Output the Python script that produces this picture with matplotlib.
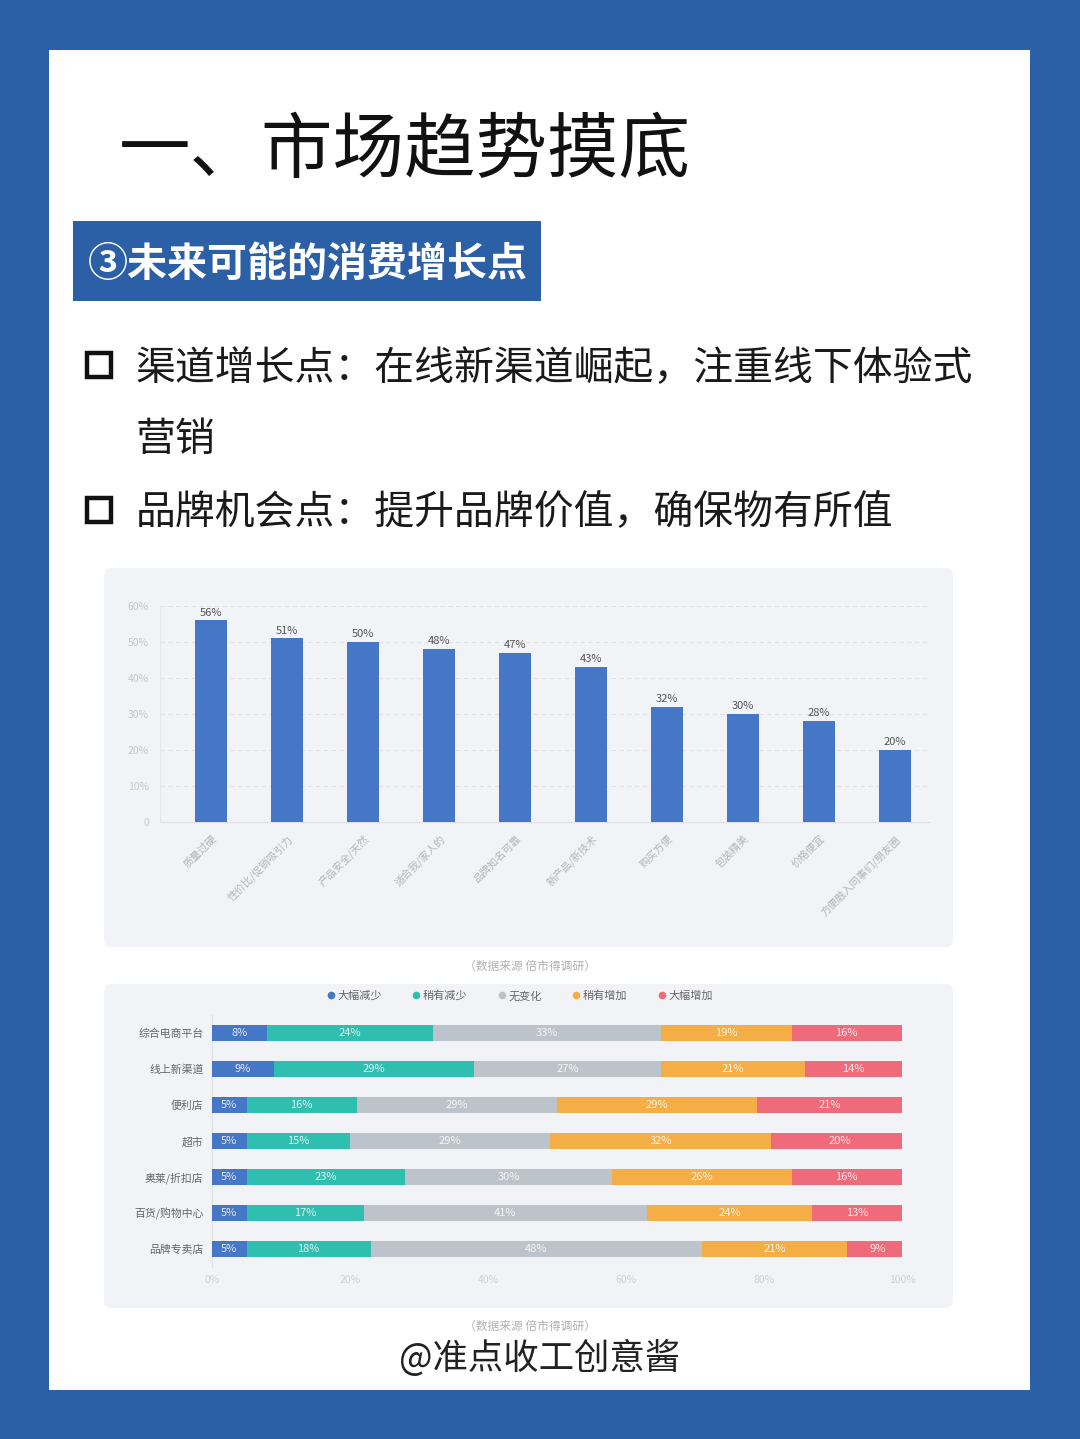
import numpy as np
import matplotlib.pyplot as plt
from matplotlib.patches import FancyBboxPatch, Rectangle
from matplotlib.lines import Line2D

plt.rcParams['font.family'] = ['Noto Sans CJK SC', 'DejaVu Sans']

# ---- data ----
bar_labels = ["质量过硬", "性价比/促销吸引力", "产品安全/天然", "适合我/家人的", "品牌知名可靠",
              "新产品/新技术", "购买方便", "包装精美", "价格便宜", "方便融入同事们/朋友圈"]
bar_values = [56, 51, 50, 48, 47, 43, 32, 30, 28, 20]
bar_yticks = [0, 10, 20, 30, 40, 50, 60]

channels = ["综合电商平台", "线上新渠道", "便利店", "超市", "奥莱/折扣店", "百货/购物中心", "品牌专卖店"]
change_levels = ["大幅减少", "稍有减少", "无变化", "稍有增加", "大幅增加"]
big_down = [8, 9, 5, 5, 5, 5, 5]
small_down = [24, 29, 16, 15, 23, 17, 18]
no_change = [33, 27, 29, 29, 30, 41, 48]
small_up = [19, 21, 29, 32, 26, 24, 21]
big_up = [16, 14, 21, 20, 16, 13, 9]
stack_xticks = [0, 20, 40, 60, 80, 100]

W, H = 1080, 1439
fig = plt.figure(figsize=(W / 100, H / 100), dpi=100)
fig.patch.set_facecolor("#2b5fa6")


def rect(x0, y0, x1, y1):
    # pixel box -> figure fraction
    return [x0 / W, 1 - y1 / H, (x1 - x0) / W, (y1 - y0) / H]


def fx(x):
    return x / W


def fy(y):
    return 1 - y / H


# white page
fig.patches.append(Rectangle((fx(49), fy(1390)), (1030 - 49) / W, (1390 - 50) / H,
                             transform=fig.transFigure, facecolor="white", edgecolor="none", zorder=-3))

# title
fig.text(fx(119), fy(151), "一、市场趋势摸底", fontsize=51.5, color="#111111",
         ha="left", va="center", fontweight="medium")

# blue tag
fig.patches.append(Rectangle((fx(73), fy(301)), (541 - 73) / W, (301 - 221) / H,
                             transform=fig.transFigure, facecolor="#2b5fa6", edgecolor="none", zorder=1))
fig.text(fx(88), fy(264), "③未来可能的消费增长点", fontsize=28.8, color="white",
         ha="left", va="center", fontweight="bold", zorder=2)

# bullets
for yb in [365, 510]:
    fig.patches.append(Rectangle((fx(87), fy(yb + 12)), 24 / W, 24 / H, transform=fig.transFigure,
                                 facecolor="none", edgecolor="#111111", linewidth=3.2, zorder=2))
fig.text(fx(136), fy(369), "渠道增长点：在线新渠道崛起，注重线下体验式", fontsize=28.7,
         color="#1a1a1a", ha="left", va="center")
fig.text(fx(136), fy(440), "营销", fontsize=28.7, color="#1a1a1a", ha="left", va="center")
fig.text(fx(136), fy(513), "品牌机会点：提升品牌价值，确保物有所值", fontsize=28.7,
         color="#1a1a1a", ha="left", va="center")

# chart panels
for (x0, y0, x1, y1) in [(104, 568, 953, 947), (104, 984, 953, 1308)]:
    fig.patches.append(FancyBboxPatch((fx(x0), fy(y1)), (x1 - x0) / W, (y1 - y0) / H,
                                      boxstyle="round,pad=0,rounding_size=0.006",
                                      transform=fig.transFigure, facecolor="#f2f3f7",
                                      edgecolor="none", zorder=-2))

# ---- bar chart ----
ax1 = fig.add_axes(rect(160, 606, 930, 822))
ax1.patch.set_alpha(0)
x = np.arange(len(bar_values))
bars = ax1.bar(x, bar_values, width=0.42, color="#4677c6", zorder=3)
for xi, v in zip(x, bar_values):
    ax1.text(xi, v + 0.8, f"{v}%", ha="center", va="bottom", fontsize=8, color="#555555")
ax1.set_xlim(-0.67, 9.46)
ax1.set_ylim(0, 60)
ax1.set_yticks(bar_yticks)
ax1.set_yticklabels(["0"] + [f"{t}%" for t in bar_yticks[1:]], fontsize=7.5, color="#c8c8c8")
ax1.set_xticks(x)
ax1.set_xticklabels(bar_labels, rotation=45, ha="right", va="top", rotation_mode="anchor",
                    fontsize=7.5, color="#b5b5b5")
ax1.tick_params(length=0, pad=8)
ax1.grid(axis="y", linestyle=(0, (4, 3)), color="#e2e2e6", linewidth=0.8, zorder=0)
for s in ["top", "right"]:
    ax1.spines[s].set_visible(False)
ax1.spines["left"].set_color("#e6e6ea")
ax1.spines["bottom"].set_color("#e0e0e4")

fig.text(fx(530), fy(966), "（数据来源 倍市得调研）", fontsize=8.5, color="#b0b0b0",
         ha="center", va="center")

# ---- stacked bar chart ----
ax2 = fig.add_axes(rect(212, 1015, 902, 1267))
ax2.patch.set_alpha(0)
colors = ["#4677c6", "#2fbfb1", "#bcc3ca", "#f5ad45", "#ef6b7b"]
series = [big_down, small_down, no_change, small_up, big_up]
y = np.arange(len(channels))
left = np.zeros(len(channels))
for vals, c, name in zip(series, colors, change_levels):
    vals = np.array(vals)
    ax2.barh(y, vals, left=left, height=0.42, color=c, label=name, zorder=3)
    for yi, l, v in zip(y, left, vals):
        ax2.text(l + v / 2, yi, f"{v}%", ha="center", va="center", fontsize=8,
                 color="white", alpha=0.85, zorder=4)
    left = left + vals
ax2.set_ylim(len(channels) - 0.5, -0.5)
ax2.set_xlim(0, 100)
ax2.set_yticks(y)
ax2.set_yticklabels(channels, fontsize=7.8, color="#666666")
ax2.set_xticks(stack_xticks)
ax2.set_xticklabels([f"{t}%" for t in stack_xticks], fontsize=7.5, color="#d0d0d0")
ax2.tick_params(length=0, pad=6)
ax2.tick_params(axis="x", pad=6)
for s in ["top", "right", "bottom"]:
    ax2.spines[s].set_visible(False)
ax2.spines["left"].set_color("#e0e0e4")

handles = [Line2D([0], [0], marker="o", color="none", markerfacecolor=c, markeredgecolor="none",
                  markersize=5.5) for c in colors]
ax2.legend(handles, change_levels, ncol=5, loc="center", bbox_to_anchor=(0.445, 1.0 + 19 / 252),
           frameon=False, fontsize=8, labelcolor="#666666", handletextpad=0.1,
           columnspacing=2.6, handlelength=1.0)

fig.text(fx(530), fy(1326), "（数据来源 倍市得调研）", fontsize=8.5, color="#b0b0b0",
         ha="center", va="center")

# watermark
fig.text(fx(540), fy(1358), "@准点收工创意酱", fontsize=25.5, color="#222222",
         ha="center", va="center", fontweight="light")

fig.savefig("out.png", dpi=100, facecolor=fig.get_facecolor())
